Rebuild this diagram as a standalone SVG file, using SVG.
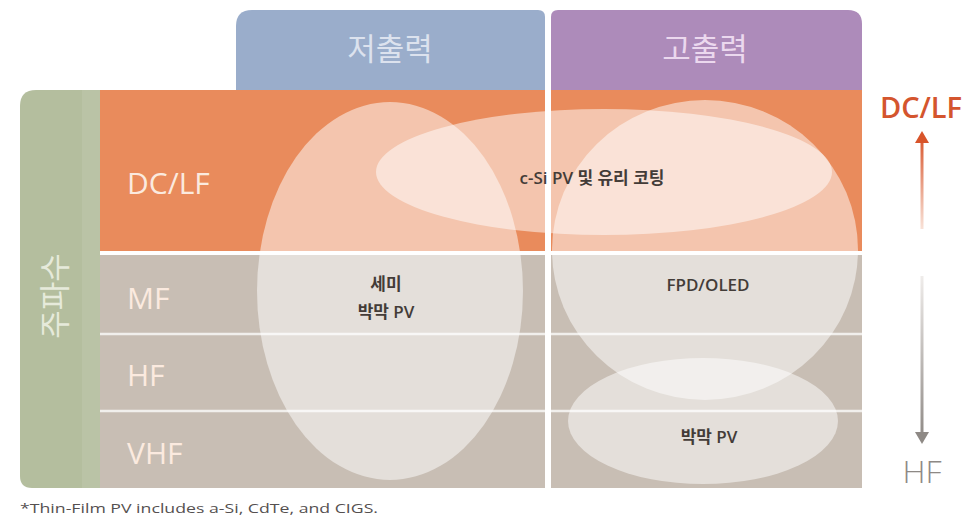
<svg xmlns="http://www.w3.org/2000/svg" width="968" height="523" viewBox="0 0 968 523">
<defs>
<linearGradient id="gRed" gradientUnits="userSpaceOnUse" x1="0" y1="135" x2="0" y2="230">
<stop offset="0" stop-color="#D8542A"/>
<stop offset="1" stop-color="#F9E4DA"/>
</linearGradient>
<linearGradient id="gGray" gradientUnits="userSpaceOnUse" x1="0" y1="275" x2="0" y2="440">
<stop offset="0" stop-color="#F0EDEB"/>
<stop offset="1" stop-color="#8E8985"/>
</linearGradient>
</defs>
<style>
.hdr{font-family:"Noto Sans CJK KR","Noto Sans",sans-serif;font-size:31px;text-anchor:middle}
.row{font-family:"Open Sans","Noto Sans",sans-serif;font-size:30px;fill:#FBEADF}
.lbl{font-family:"Open Sans","Noto Sans CJK KR",sans-serif;font-size:17px;font-weight:600;fill:#433C38;text-anchor:middle}
.ell{fill:#FFFFFF;fill-opacity:0.5}
.sep{fill:#FFFFFF}
.hl{stroke:#FFFFFF;stroke-opacity:0.75;stroke-width:2.5}
</style>
<rect width="968" height="523" fill="#FFFFFF"/>

<g id="header-low">
<path d="M236,90 V26 Q236,10 252,10 H538 Q545,10 545,17 V90 Z" fill="#9AADCB"/>
<text class="hdr" x="390" y="60" fill="#DCE2EE">저출력</text>
</g>
<g id="header-high">
<path d="M551,90 V17 Q551,10 558,10 H848 Q862,10 862,24 V90 Z" fill="#AD8BBA"/>
<text class="hdr" x="705" y="60" fill="#EBD8EE">고출력</text>
</g>

<g id="axis-column">
<path d="M100,90 H36 Q20,90 20,106 V476 Q20,488 32,488 H100 Z" fill="#B4BE9E"/>
<rect x="82" y="90" width="18" height="398" fill="#BAC3A6"/>
<text transform="translate(52,296) rotate(-90)" font-family="Noto Sans CJK KR,sans-serif" font-size="31" fill="#E6EADB" text-anchor="middle" dominant-baseline="central">주파수</text>
</g>

<g id="band-dclf">
<rect x="100" y="90" width="762" height="162" fill="#E98B5C"/>
<text class="row" x="127" y="194">DC/LF</text>
</g>
<g id="band-mf">
<rect x="100" y="255" width="762" height="80" fill="#C8BEB4"/>
<text class="row" x="127" y="309">MF</text>
</g>
<g id="band-hf">
<rect x="100" y="334" width="762" height="78" fill="#C8BEB4"/>
<text class="row" x="127" y="386">HF</text>
</g>
<g id="band-vhf">
<rect x="100" y="411" width="762" height="77" fill="#C8BEB4"/>
<text class="row" x="127" y="464">VHF</text>
</g>

<g id="ellipse-semi-thin">
<ellipse class="ell" cx="390" cy="291" rx="133" ry="189"/>
</g>
<g id="ellipse-fpd">
<ellipse class="ell" cx="705" cy="250" rx="153" ry="150"/>
</g>
<g id="ellipse-csi">
<ellipse class="ell" cx="604" cy="172" rx="228" ry="63"/>
</g>
<g id="ellipse-thin">
<ellipse class="ell" cx="703" cy="421" rx="135" ry="63"/>
</g>

<g id="grid-lines">
<rect class="sep" x="100" y="251" width="762" height="4"/>
<line class="hl" x1="100" y1="334" x2="862" y2="334"/>
<line class="hl" x1="100" y1="411" x2="862" y2="411"/>
<rect class="sep" x="545" y="8" width="6" height="482"/>
</g>

<g id="labels">
<text class="lbl" x="592" y="184">c-Si PV 및 유리 코팅</text>
<text class="lbl" x="386" y="290">세미</text>
<text class="lbl" x="386" y="318">박막 PV</text>
<text class="lbl" x="708" y="291">FPD/OLED</text>
<text class="lbl" x="709" y="443">박막 PV</text>
</g>

<g id="connectors">
<path d="M922,229 V140" stroke="url(#gRed)" stroke-width="3" fill="none"/>
<path d="M915,143 L922,131 L929,143 Z" fill="#D8542A"/>
<path d="M922,276 V434" stroke="url(#gGray)" stroke-width="3" fill="none"/>
<path d="M915,432 L922,444 L929,432 Z" fill="#8E8985"/>
</g>

<g id="axis-labels">
<text x="921" y="118" font-family="Open Sans,sans-serif" font-size="29" font-weight="600" fill="#D4552E" text-anchor="middle">DC/LF</text>
<text x="922" y="483" font-family="Open Sans,sans-serif" font-size="32" font-weight="300" fill="#8E8985" text-anchor="middle">HF</text>
</g>

<text x="20" y="513" font-family="Open Sans,sans-serif" font-size="13" fill="#555050" textLength="358" lengthAdjust="spacingAndGlyphs">*Thin-Film PV includes a-Si, CdTe, and CIGS.</text>
</svg>
